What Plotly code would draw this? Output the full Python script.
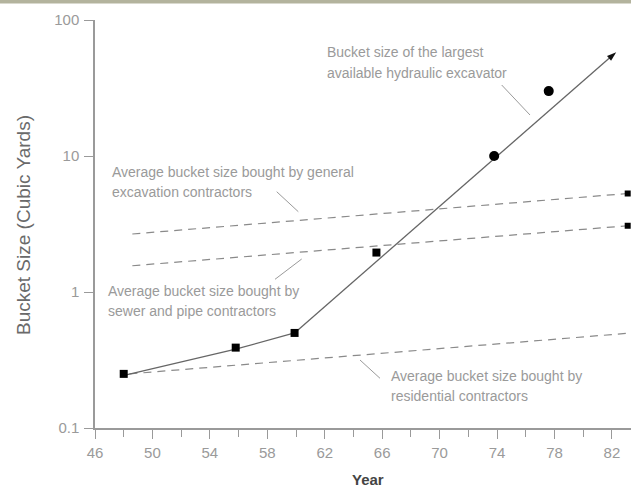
import plotly.graph_objects as go

# ---- data ----
point_years = [48.0, 55.8, 59.9, 65.6, 73.8, 77.6]
point_sizes = [0.25, 0.39, 0.50, 1.95, 10.0, 30.0]
point_symbols = ["square", "square", "square", "square", "circle", "circle"]

trend_years = [48.1, 55.8, 59.9, 82.3]
trend_sizes = [0.245, 0.38, 0.50, 58.0]

general_years = [48.6, 83.1]
general_sizes = [2.67, 5.3]

sewer_years = [48.6, 83.1]
sewer_sizes = [1.56, 3.07]

resid_years = [48.4, 83.4]
resid_sizes = [0.25, 0.50]

x_ticks = [46, 50, 54, 58, 62, 66, 70, 74, 78, 82]
y_ticks = [0.1, 1, 10, 100]
y_tick_text = ["0.1", "1", "10", "100"]

# ---- layout geometry (pixels) ----
W, H = 631, 487
L, R, T, B = 95, 0, 20, 59
PW, PH = W - L - R, H - T - B


def px(x):
    return (x - L) / PW


def py(y):
    return (H - B - y) / PH


FONT = "Liberation Sans, Arial, sans-serif"
TXT = "#9a9a9a"

fig = go.Figure()

dash = "8px,6px"
for xs, ys in [(general_years, general_sizes), (sewer_years, sewer_sizes), (resid_years, resid_sizes)]:
    fig.add_trace(go.Scatter(x=xs, y=ys, mode="lines",
                             line=dict(color="#8a8a8a", width=1.2, dash=dash),
                             hoverinfo="skip", showlegend=False))

# end markers on dashed lines
fig.add_trace(go.Scatter(x=[general_years[-1], sewer_years[-1]],
                         y=[general_sizes[-1], sewer_sizes[-1]],
                         mode="markers", cliponaxis=False,
                         marker=dict(symbol="square", size=6, color="#000", opacity=1),
                         showlegend=False))

# trend line with arrowhead
fig.add_trace(go.Scatter(x=trend_years, y=trend_sizes, mode="lines+markers",
                         line=dict(color="#666666", width=1.3),
                         marker=dict(symbol="arrow", size=[0, 0, 0, 10],
                                     angleref="previous", color="#111", opacity=1,
                                     line=dict(width=0)),
                         showlegend=False))

# data points
fig.add_trace(go.Scatter(x=point_years, y=point_sizes, mode="markers",
                         marker=dict(symbol=point_symbols,
                                     size=[8, 8, 8, 8, 10, 10], opacity=1,
                                     color="#000", line=dict(width=0)),
                         showlegend=False))

ann = []


def label(x, y, text, size=14):
    ann.append(dict(x=px(x), y=py(y), xref="paper", yref="paper", text=text,
                    showarrow=False, xanchor="left", yanchor="middle",
                    font=dict(family=FONT, size=size, color=TXT)))


label(325, 51.7, "Bucket size of the largest")
label(325, 72.7, "available hydraulic excavator")
label(110, 171.7, "Average bucket size bought by general")
label(110, 192.3, "excavation contractors")
label(106, 291, "Average bucket size bought by")
label(106, 311, "sewer and pipe contractors")
label(388.5, 376, "Average bucket size bought by")
label(388.5, 395.7, "residential contractors")

ann.append(dict(x=px(23), y=py(225), xref="paper", yref="paper",
                text="Bucket Size (Cubic Yards)", textangle=-90, showarrow=False,
                xanchor="center", yanchor="middle",
                font=dict(family=FONT, size=19, color="#6a6a6a")))
ann.append(dict(x=px(368), y=py(479), xref="paper", yref="paper",
                text="<b>Year</b>", showarrow=False,
                xanchor="center", yanchor="middle",
                font=dict(family=FONT, size=15, color="#444")))

shapes = []
for (x0, y0, x1, y1) in [(501.7, 85, 530, 115), (276.7, 191.7, 298.3, 211.7),
                         (301.7, 259, 275, 279.3), (360, 360, 380, 378.3)]:
    shapes.append(dict(type="line", xref="paper", yref="paper",
                       x0=px(x0), y0=py(y0), x1=px(x1), y1=py(y1),
                       line=dict(color="#9a9a9a", width=1)))
# top band
shapes.append(dict(type="rect", xref="paper", yref="paper", layer="above",
                   x0=px(0), x1=px(W), y0=py(0), y1=py(3.5),
                   line=dict(width=0), fillcolor="#b3b39d"))

fig.update_layout(
    width=W, height=H,
    margin=dict(l=L, r=R, t=T, b=B, pad=0),
    paper_bgcolor="white", plot_bgcolor="white",
    showlegend=False,
    annotations=ann, shapes=shapes,
    font=dict(family=FONT, color=TXT),
    xaxis=dict(range=[46, 83.33], tickmode="array", tickvals=x_ticks,
               ticks="outside", ticklen=9, tickwidth=1, tickcolor="#9a9a9a",
               showline=True, linecolor="#9a9a9a", linewidth=1.5,
               showgrid=False, zeroline=False,
               tickfont=dict(family=FONT, size=15, color=TXT),
               minor=dict(tickmode="array", tickvals=list(range(48, 84, 4)),
                          ticks="outside", ticklen=7, tickcolor="#9a9a9a"),
               ticklabelstandoff=1),
    yaxis=dict(type="log", range=[-1, 2], tickmode="array",
               tickvals=y_ticks, ticktext=y_tick_text,
               ticks="outside", ticklen=9, tickwidth=1, tickcolor="#9a9a9a",
               showline=True, linecolor="#9a9a9a", linewidth=1.5,
               showgrid=False, zeroline=False,
               tickfont=dict(family=FONT, size=15, color=TXT),
               ticklabelstandoff=2),
)

fig.write_html("out.html", config={"displayModeBar": False},
               post_script="document.body.style.margin='0';document.body.style.overflow='hidden';")
